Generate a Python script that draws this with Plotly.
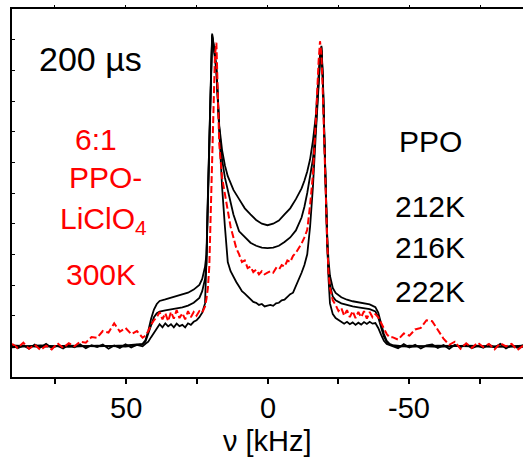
import plotly.graph_objects as go

# ---------------- data ----------------
# coarse frequency grid (kHz) for the two smooth black spectra
nu_coarse = [90, 80, 70, 60, 50, 46, 44, 43, 42, 41, 40, 39, 38,
             36, 34, 32, 30, 28, 26, 24, 23, 22,
             21.5, 21, 20.5, 20, 19.5, 19, 18.5, 18, 17.5, 17,
             16, 15, 14, 13, 12, 10, 8, 6, 4, 2, 0,
             -2, -4, -6, -8, -10, -12, -13, -14, -15, -16, -17,
             -17.5, -18, -18.5, -19, -19.5, -20, -20.5, -21, -21.5,
             -22, -23, -24, -26, -28, -30, -32, -34, -36, -38,
             -39, -40, -41, -42, -43, -44, -46, -50, -60, -70, -80, -90]

# fine frequency grid (kHz) for the two noisy spectra
nu_fine = [90, 88, 86, 84, 82, 80, 78, 76, 74, 72, 70, 68, 66, 64, 62, 60,
           58, 56, 54, 52, 50, 48, 46, 44,
           43, 42, 41, 40, 39, 38, 37, 36, 35, 34, 33, 32, 31, 30, 29, 28,
           27, 26, 25, 24, 23, 22,
           21.5, 21, 20.5, 20, 19.5, 19, 18.5, 18, 17.5, 17,
           16, 15, 14, 13, 12, 11, 10, 9, 8, 7, 6, 5, 4, 3, 2, 1, 0,
           -1, -2, -3, -4, -5, -6, -7, -8, -9, -10, -11, -12, -13, -14, -15, -16,
           -17, -17.5, -18, -18.5, -19, -19.5, -20, -20.5, -21, -21.5,
           -22, -23, -24, -25, -26, -27, -28, -29, -30, -31, -32, -33, -34,
           -35, -36, -37, -38, -39, -40, -41, -42, -43,
           -44, -46, -48, -50, -52, -54, -56, -58, -60, -62, -64, -66, -68,
           -70, -72, -74, -76, -78, -80, -82, -84, -86, -88, -90]

# PPO 222K (highest centre)
ppo_222K = [0.03, -0.02, 0.02, 0.0, 0.03, 0.05, 0.08, 0.2, 0.5, 0.9, 1.2, 1.38, 1.48,
            1.53, 1.58, 1.63, 1.68, 1.75, 1.85, 2.0, 2.2, 2.6,
            3.0, 5.1, 6.7, 8.5, 10.2, 9.9, 9.5, 9.1, 8.2, 7.2,
            6.4, 5.9, 5.55, 5.3, 5.1, 4.8, 4.5, 4.3, 4.12, 4.0, 3.95,
            4.0, 4.1, 4.3, 4.5, 4.8, 5.15, 5.4, 5.7, 6.1, 6.7, 7.5,
            8.2, 8.9, 9.5, 9.8, 8.8, 7.0, 5.2, 3.6, 2.8,
            2.3, 1.9, 1.74, 1.6, 1.52, 1.47, 1.44, 1.41, 1.37, 1.28,
            1.1, 0.75, 0.4, 0.18, 0.08, 0.04, 0.02, -0.02, 0.02, 0.0, -0.02, 0.02]

# PPO 216K (middle)
ppo_216K = [-0.03, 0.03, -0.02, 0.02, -0.01, 0.03, 0.06, 0.15, 0.4, 0.7, 0.95, 1.08, 1.13,
            1.17, 1.2, 1.23, 1.27, 1.33, 1.42, 1.58, 1.8, 2.2,
            2.7, 4.9, 6.6, 8.4, 10.15, 9.85, 9.45, 9.05, 8.1, 7.1,
            6.1, 5.5, 5.1, 4.7, 4.3, 3.75, 3.55, 3.38, 3.28, 3.22, 3.2,
            3.22, 3.28, 3.4, 3.55, 3.78, 4.2, 4.55, 5.0, 5.5, 6.1, 7.1,
            7.9, 8.8, 9.4, 9.75, 8.7, 6.9, 5.0, 3.3, 2.4,
            2.0, 1.62, 1.5, 1.4, 1.34, 1.3, 1.27, 1.25, 1.21, 1.14,
            0.95, 0.62, 0.32, 0.14, 0.06, 0.03, -0.02, 0.02, -0.02, 0.02, 0.0, -0.02]

# PPO 212K (lowest centre, noisy)
ppo_212K = [0.05, -0.06, 0.03, -0.08, 0.06, -0.04, 0.08, -0.05, 0.02, -0.07, 0.05, -0.03,
            0.07, -0.06, 0.04, -0.02, 0.06, -0.08, 0.03, -0.05, 0.07, -0.04, 0.05, 0.0,
            0.08, 0.15, 0.3, 0.45, 0.58, 0.72, 0.62, 0.75, 0.65, 0.72, 0.62, 0.74, 0.66, 0.7,
            0.62, 0.75, 0.7, 0.8, 0.85, 0.95, 1.1, 1.4,
            2.8, 4.8, 6.6, 8.4, 10.1, 9.8, 9.4, 8.95, 8.0, 7.0,
            5.2, 3.9, 2.75, 2.45, 2.25, 2.1, 1.95, 1.8, 1.72, 1.62, 1.55, 1.45, 1.42, 1.35,
            1.38, 1.3, 1.33,
            1.35, 1.32, 1.4, 1.42, 1.5, 1.52, 1.62, 1.7, 1.75, 1.95, 2.2, 2.4, 2.65, 3.0,
            3.9, 5.2,
            6.9, 7.8, 8.7, 9.3, 9.65, 8.6, 6.8, 5.0, 3.3, 2.2,
            1.4, 1.05, 0.92, 0.85, 0.8, 0.74, 0.8, 0.72, 0.78, 0.7, 0.77, 0.71, 0.79,
            0.73, 0.8, 0.74, 0.76, 0.6, 0.38, 0.18, 0.08, 0.04,
            0.02, -0.06, 0.07, -0.04, 0.05, -0.07, 0.03, 0.06, -0.05, 0.04, -0.08, 0.05,
            -0.03, 0.07, -0.06, 0.02, -0.05, 0.06, -0.04, 0.08, -0.07, 0.03, -0.05, 0.04]

# 6:1 PPO-LiClO4, 300K (red dashed)
ppo_liclo4_300K = [0.08, -0.05, 0.12, -0.08, 0.05, -0.12, 0.02, -0.1, 0.1, -0.05, 0.1, 0.0,
                   0.15, 0.12, 0.3, 0.28, 0.5, 0.45, 0.75, 0.48, 0.6, 0.4, 0.5, 0.28,
                   0.35, 0.5, 0.7, 0.85, 0.95, 1.12, 0.88, 1.08, 0.82, 1.12, 0.9, 1.18,
                   0.92, 1.08, 0.88, 1.15, 0.95, 1.12, 1.0, 1.15, 1.1, 1.3,
                   1.55, 1.9, 2.6, 4.3, 6.7, 8.4, 9.5, 9.9, 8.2, 6.6,
                   5.5, 5.0, 4.4, 3.9, 3.55, 3.2, 3.0, 2.75, 2.8, 2.55, 2.6, 2.42, 2.5, 2.35,
                   2.45, 2.35, 2.4,
                   2.45, 2.4, 2.55, 2.5, 2.65, 2.6, 2.8, 2.75, 2.95, 3.05, 3.2, 3.35, 3.55, 3.8,
                   4.6, 5.6,
                   7.3, 8.4, 9.3, 9.95, 9.5, 8.2, 6.5, 4.9, 3.5, 2.4,
                   1.9, 1.5, 1.35, 1.15, 1.25, 1.0, 1.18, 0.95, 1.15, 0.92, 1.12, 0.95, 1.15,
                   0.9, 1.12, 0.95, 1.05, 0.95, 0.75, 0.55, 0.4, 0.3,
                   0.3, 0.22, 0.42, 0.35, 0.55, 0.6, 0.85, 0.82, 0.55, 0.25, 0.05, 0.15,
                   -0.08, 0.1, -0.05, 0.12, -0.02, 0.08, -0.1, 0.1, 0.0, 0.08, -0.12, 0.02]

x_tickvals = [75, 50, 25, 0, -25, -50, -75]
x_labelvals = [50, 0, -50]
x_labeltext = ["50", "0", "-50"]
y_tickvals = [0, 1, 2, 3, 4, 5, 6, 7, 8, 9, 10]

assert len(nu_coarse) == len(ppo_222K) == len(ppo_216K)
assert len(nu_fine) == len(ppo_212K) == len(ppo_liclo4_300K)

# ---------------- figure ----------------
FONT = "Liberation Sans, Arial, sans-serif"
fig = go.Figure()
for ys in (ppo_222K, ppo_216K):
    fig.add_trace(go.Scatter(x=nu_coarse, y=ys, mode="lines",
                             line=dict(color="black", width=1.8), hoverinfo="skip"))
fig.add_trace(go.Scatter(x=nu_fine, y=ppo_212K, mode="lines",
                         line=dict(color="black", width=1.8), hoverinfo="skip"))
fig.add_trace(go.Scatter(x=nu_fine, y=ppo_liclo4_300K, mode="lines",
                         line=dict(color="red", width=2, dash="7px,3px"), hoverinfo="skip"))
# empty helper trace so that the top tick axis is drawn
fig.add_trace(go.Scatter(x=[None], y=[None], xaxis="x2", yaxis="y", mode="lines",
                         hoverinfo="skip", showlegend=False))

L, R, T, B = 12, 0, 9, 85
W, H = 523, 462
pw, ph = W - L - R, H - T - B


def px(xp, yp):
    return (xp - L) / pw, (H - B - yp) / ph


annots = [
    ("200 µs", 90, 59, "black", 34),
    ("6:1", 96, 139, "red", 30),
    ("PPO-", 105, 177, "red", 30),
    ("LiClO<sub>4</sub>", 103, 220, "red", 30),
    ("300K", 101, 274, "red", 30),
    ("PPO", 430, 141, "black", 30),
    ("212K", 430, 206, "black", 30),
    ("216K", 430, 248, "black", 30),
    ("222K", 430, 291, "black", 30),
]
for txt, xp, yp, col, fs in annots:
    ax, ay = px(xp, yp)
    fig.add_annotation(text=txt, x=ax, y=ay, xref="paper", yref="paper",
                       xanchor="center", yanchor="middle", showarrow=False,
                       font=dict(family=FONT, size=fs, color=col))

# tick labels and axis title placed under the axis
for v, t in zip(x_labelvals, x_labeltext):
    fig.add_annotation(text=t, x=v, xref="x", y=(H - B - 408) / ph, yref="paper",
                       xanchor="center", yanchor="middle", showarrow=False,
                       font=dict(family=FONT, size=29, color="black"))
fig.add_annotation(text="ν [kHz]", x=0, xref="x", y=(H - B - 441) / ph, yref="paper",
                   xanchor="center", yanchor="middle", showarrow=False,
                   font=dict(family=FONT, size=29, color="black"))

fig.update_layout(
    width=W, height=H,
    margin=dict(l=L, r=R, t=T, b=B, autoexpand=False),
    paper_bgcolor="white", plot_bgcolor="white",
    showlegend=False,
    font=dict(family=FONT, color="black"),
    xaxis=dict(range=[90, -90], tickvals=x_tickvals, showticklabels=False,
               ticks="outside", ticklen=5, tickwidth=1.5, tickcolor="black",
               showline=True, linewidth=1.5, linecolor="black", mirror=True,
               showgrid=False, zeroline=False, automargin=False),
    xaxis2=dict(matches="x", overlaying="x", side="top", range=[90, -90],
                tickvals=x_tickvals, ticks="outside", ticklen=3, tickwidth=1,
                tickcolor="black", showticklabels=False, showline=False,
                showgrid=False, zeroline=False, automargin=False),
    yaxis=dict(range=[-1, 11], tickvals=y_tickvals, ticks="inside", ticklen=3,
               tickwidth=1, tickcolor="black", showticklabels=False,
               showline=True, linewidth=1.5, linecolor="black",
               showgrid=False, zeroline=False, automargin=False),
)

fig.write_html("out.html", config={"displayModeBar": False},
               post_script="document.body.style.margin='0';document.body.style.overflow='hidden';")
